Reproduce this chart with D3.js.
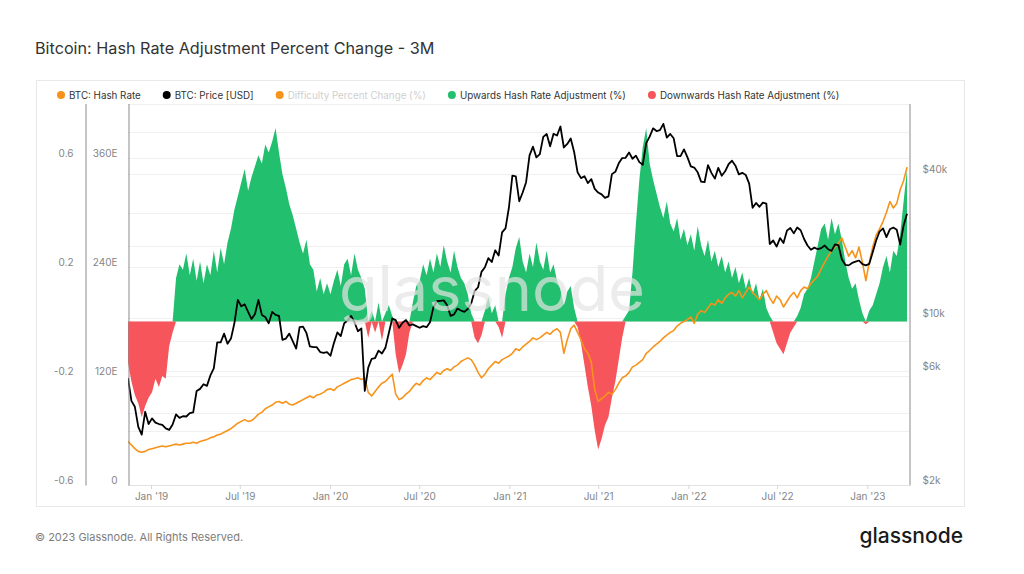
<!DOCTYPE html>
<html lang="en">
<head>
<meta charset="UTF-8">
<title>Bitcoin: Hash Rate Adjustment Percent Change - 3M</title>
<style>
    body {
        margin: 0;
        padding: 0;
        background: #fff;
        font-family: Inter, "Noto Sans", sans-serif;
    }
    .axis text {
        font-size: 10px;
        fill: #858585;
        font-family: Inter, "Noto Sans", sans-serif;
    }
    .axis .domain {
        stroke: #8a8a8a;
    }
    .x-axis .domain {
        stroke: #e2e2e2;
    }
    .x-axis .tick line {
        stroke: #d6d6d6;
    }
    .legend text {
        font-size: 9.8px;
        fill: #333;
    }
</style>
</head>
<body>
<script src="https://d3js.org/d3.v7.min.js"></script>
<script>
// weekly samples, first one on 15 Nov 2018
const startDate = new Date(2018, 10, 15);

// BTC price, USD
const price = [
    5600, 4500, 4250, 3500, 3250, 4050, 3600,
    3800, 3650, 3600, 3570, 3450, 3400, 3580, 3950, 3820, 3880, 3870, 4000, 4030,
    4950, 5050, 5280, 5200, 5750, 6150, 7900, 7900, 8600, 7800, 8200, 9500, 11900,
    11200, 11400, 10600, 9900, 10400, 11900, 10300, 10100, 9500, 10600, 10300, 10200, 8100,
    8200, 8600, 8000, 7450, 9150, 9200, 8650, 7600, 7550, 7550, 7200, 7150, 7200,
    6950, 7850, 8700, 8400, 9500, 9750, 10200, 9600, 8800, 9050, 4950, 6200, 6750,
    6800, 7300, 7100, 7500, 8650, 9950, 9800, 9100, 9550, 9800, 9300, 9400, 9250,
    9100, 9250, 9150, 9600, 11100, 11750, 11800, 11850, 11300, 10200, 10350, 10950, 10750,
    10600, 10900, 11500, 12950, 13450, 15600, 16300, 17800, 17150, 19200, 18250, 22800, 23700, 29000,
    39400, 39150, 30800, 33500, 37000, 47900, 52100, 47000, 48500, 57300, 58900, 52300,
    59000, 58000, 63300, 51700, 53500, 56400, 49500, 40700, 38500, 39200, 36700, 38100, 34700,
    33500, 32900, 31800, 32300, 40000, 40900, 44400, 46700, 46800, 49300, 46400, 47800, 44900, 43800,
    53900, 57400, 62200, 60600, 61100, 64900, 56900, 58900, 56500, 47600, 47600, 50800, 47100,
    43100, 42600, 40700, 37200, 37000, 43600, 40500, 38300, 42500, 39400, 41100, 44000, 45500,
    43400, 39900, 40500, 39700, 36500, 28900, 30300, 29200, 30400, 30100, 20400, 21100, 19900,
    21600, 20600, 23200, 23800, 22600, 23900, 23300, 21400, 20100, 19300, 19700, 19400, 19600,
    20100, 19400, 19100, 20300, 20200, 17600, 16700, 16600, 17000, 17200, 17400, 16800, 16600,
    16850, 18850, 21100, 23000, 23700, 21800, 23500, 23900, 23400, 20300, 24400, 27300
];

// BTC hash rate, EH/s
const hashRate = [
    48, 44, 40, 37, 36, 37, 39,
    40, 41, 42, 43, 42, 43, 44, 45, 44, 45, 46, 46, 47,
    46, 48, 49, 50, 52, 53, 55, 56, 58, 60, 62, 65, 68,
    70, 72, 70, 71, 74, 78, 80, 84, 86, 88, 91, 92, 90,
    92, 89, 88, 90, 92, 94, 96, 98, 96, 99, 100, 102, 105,
    106, 104, 108, 110, 112, 114, 116, 117, 118, 116, 118, 102, 98,
    103, 108, 112, 114, 118, 122, 100, 94, 96, 100, 103, 108, 112,
    110, 115, 118, 116, 120, 124, 122, 126, 128, 126, 130, 132, 136,
    138, 140, 138, 132, 124, 118, 122, 128, 132, 136, 134, 138, 140, 142,
    145, 150, 148, 152, 155, 158, 162, 160, 162, 165, 168, 166,
    170, 172, 168, 145, 160, 172, 176, 168, 160, 150, 145, 135, 105,
    92, 95, 98, 102, 100, 105, 112, 118, 120, 124, 130, 132, 135, 138,
    145, 148, 152, 155, 158, 162, 165, 168, 170, 175, 178, 180, 182,
    185, 178, 188, 192, 190, 195, 200, 198, 204, 200, 206, 210, 212,
    208, 214, 206, 212, 218, 212, 208, 204, 210, 214, 206, 200, 208,
    204, 196, 202, 208, 212, 206, 214, 218, 216, 222, 226, 230, 238,
    245, 252, 258, 262, 266, 272, 262, 252, 258, 250, 262, 245, 225,
    245, 262, 275, 282, 290, 300, 312, 305, 310, 325, 335, 350
];

// hash rate adjustment, 3 month percent change
const pctChange = [
    -0.15, -0.22, -0.27, -0.30, -0.35, -0.31, -0.28,
    -0.26, -0.21, -0.24, -0.20, -0.21, -0.09, -0.04, 0.16, 0.21, 0.19, 0.25, 0.17, 0.23,
    0.15, 0.22, 0.14, 0.21, 0.17, 0.26, 0.18, 0.27, 0.21, 0.29, 0.34, 0.41, 0.46,
    0.51, 0.56, 0.48, 0.53, 0.57, 0.61, 0.58, 0.65, 0.62, 0.66, 0.71, 0.62, 0.54,
    0.49, 0.43, 0.39, 0.34, 0.29, 0.25, 0.30, 0.21, 0.19, 0.11, 0.16, 0.10, 0.14,
    0.10, 0.15, 0.19, 0.13, 0.21, 0.23, 0.17, 0.25, 0.19, 0.16, 0.12, -0.06, 0.04,
    -0.04, 0.07, -0.07, 0.03, 0.06, 0.02, -0.12, -0.19, -0.16, -0.12, -0.04, 0.07, 0.13,
    0.15, 0.21, 0.17, 0.23, 0.18, 0.25, 0.20, 0.28, 0.22, 0.18, 0.26, 0.20, 0.16,
    0.14, 0.10, 0.03, -0.06, -0.08, -0.05, 0.04, 0.09, 0.03, 0.06, -0.02, -0.06, 0.10, 0.16,
    0.20, 0.27, 0.31, 0.22, 0.18, 0.25, 0.20, 0.29, 0.22, 0.19, 0.26, 0.18,
    0.21, 0.15, 0.12, 0.06, 0.11, 0.13, 0.05, -0.02, -0.08, -0.16, -0.24, -0.31, -0.40,
    -0.47, -0.43, -0.38, -0.35, -0.28, -0.22, -0.14, -0.06, 0.02, 0.04, 0.18, 0.36, 0.52, 0.64,
    0.71, 0.58, 0.52, 0.47, 0.42, 0.38, 0.44, 0.36, 0.33, 0.38, 0.30, 0.34, 0.28,
    0.32, 0.26, 0.35, 0.28, 0.24, 0.30, 0.22, 0.26, 0.20, 0.24, 0.18, 0.22, 0.16,
    0.20, 0.14, 0.18, 0.12, 0.16, 0.10, 0.14, 0.08, 0.12, 0.05, 0.02, -0.04, -0.08,
    -0.10, -0.12, -0.08, -0.04, -0.02, 0.02, 0.05, 0.10, 0.12, 0.16, 0.22, 0.28, 0.34,
    0.36, 0.30, 0.38, 0.32, 0.36, 0.30, 0.22, 0.16, 0.12, 0.14, 0.08, 0.03, -0.01,
    0.04, 0.06, 0.10, 0.14, 0.20, 0.24, 0.18, 0.26, 0.24, 0.32, 0.44, 0.56
];

const dates = pctChange.map((d, i) => d3.timeDay.offset(startDate, 7 * i));

// axes
const pctTicks = [-0.6, -0.2, 0.2, 0.6];
const hashTicks = [0, 120, 240, 360];
const hashGrid = [0, 60, 120, 180, 240, 300, 360, 420];
const priceTicks = [2000, 6000, 10000, 40000];
const priceGrid = [2000, 4000, 6000, 8000, 10000, 20000, 40000, 60000];

const legendItems = [
    { label: "BTC: Hash Rate", color: "#f7931a", off: false },
    { label: "BTC: Price [USD]", color: "#000000", off: false },
    { label: "Difficulty Percent Change (%)", color: "#f7931a", off: true },
    { label: "Upwards Hash Rate Adjustment (%)", color: "#22bf6e", off: false },
    { label: "Downwards Hash Rate Adjustment (%)", color: "#f5555b", off: false }
];

const W = 1024, H = 574;
const plot = { left: 128, right: 909, top: 103.5, bottom: 485 };

const svg = d3.select("body").append("svg")
    .attr("width", W)
    .attr("height", H);

// card
svg.append("rect")
    .attr("x", 36.5).attr("y", 80.5)
    .attr("width", 928).attr("height", 426)
    .attr("fill", "none")
    .attr("stroke", "#e8e8e8");

svg.append("text")
    .attr("x", 35).attr("y", 54)
    .style("font-size", "16.2px")
    .style("font-weight", 400)
    .style("fill", "#333")
    .text("Bitcoin: Hash Rate Adjustment Percent Change - 3M");

// scales
const x = d3.scaleTime()
    .domain([new Date(2018, 10, 15), new Date(2023, 2, 27)])
    .range([plot.left, plot.right]);
const yPct = d3.scaleLinear().domain([-0.6, 0.8]).range([plot.bottom, plot.top]);
const yHash = d3.scaleLinear().domain([0, 420]).range([plot.bottom, plot.top]);
const yPrice = d3.scaleLog().domain([2000, 79000]).range([plot.bottom, plot.top]);

// grid
const grid = svg.append("g").attr("stroke", "#f0f0f0");
grid.selectAll(".gh").data(hashGrid).enter().append("line")
    .attr("x1", plot.left).attr("x2", plot.right)
    .attr("y1", d => Math.round(yHash(d)) + 0.5).attr("y2", d => Math.round(yHash(d)) + 0.5);
grid.selectAll(".gp").data(priceGrid).enter().append("line")
    .attr("x1", plot.left).attr("x2", plot.right)
    .attr("y1", d => Math.round(yPrice(d)) + 0.5).attr("y2", d => Math.round(yPrice(d)) + 0.5);

svg.append("clipPath").attr("id", "clip")
    .append("rect")
    .attr("x", plot.left).attr("y", plot.top)
    .attr("width", plot.right - plot.left).attr("height", plot.bottom - plot.top);

const chart = svg.append("g").attr("clip-path", "url(#clip)");

// up / down areas
const up = d3.area()
    .x((d, i) => x(dates[i]))
    .y0(yPct(0))
    .y1(d => yPct(Math.max(d, 0)));
const down = d3.area()
    .x((d, i) => x(dates[i]))
    .y0(yPct(0))
    .y1(d => yPct(Math.min(d, 0)));

chart.append("path").datum(pctChange)
    .attr("d", up)
    .attr("fill", "#22bf6e");
chart.append("path").datum(pctChange)
    .attr("d", down)
    .attr("fill", "#f5555b");

// watermark
svg.append("text")
    .attr("x", 492).attr("y", 311)
    .attr("text-anchor", "middle")
    .style("font-size", "63px")
    .style("font-weight", 400)
    .style("fill", "#e4e4e4")
    .style("opacity", 0.7)
    .text("glassnode");

chart.append("path").datum(hashRate)
    .attr("d", d3.line().x((d, i) => x(dates[i])).y(d => yHash(d)))
    .attr("fill", "none")
    .attr("stroke", "#f7931a")
    .attr("stroke-width", 1.6)
    .attr("stroke-linejoin", "round");

chart.append("path").datum(price)
    .attr("d", d3.line().x((d, i) => x(dates[i])).y(d => yPrice(d)))
    .attr("fill", "none")
    .attr("stroke", "#000")
    .attr("stroke-width", 1.8)
    .attr("stroke-linejoin", "round");

// x axis
svg.append("g")
    .attr("class", "axis x-axis")
    .attr("transform", "translate(0," + plot.bottom + ")")
    .call(d3.axisBottom(x)
        .ticks(d3.timeMonth.every(6))
        .tickFormat(d3.timeFormat("%b '%y"))
        .tickSize(4)
        .tickSizeOuter(0)
        .tickPadding(4));

// percent axis (far left)
svg.append("g")
    .attr("class", "axis")
    .attr("transform", "translate(85.5,0)")
    .call(d3.axisLeft(yPct).tickValues(pctTicks).tickSize(0).tickSizeOuter(0).tickPadding(12)
        .tickFormat(d => String(d)))
    .selectAll("text").attr("dy", "-0.12em");

// hash rate axis
svg.append("g")
    .attr("class", "axis")
    .attr("transform", "translate(128.5,0)")
    .call(d3.axisLeft(yHash).tickValues(hashTicks).tickSize(0).tickSizeOuter(0).tickPadding(11)
        .tickFormat(d => d === 0 ? "0" : d + "E"))
    .selectAll("text").attr("dy", "-0.12em");

// price axis
svg.append("g")
    .attr("class", "axis")
    .attr("transform", "translate(909.5,0)")
    .call(d3.axisRight(yPrice).tickValues(priceTicks).tickSize(0).tickSizeOuter(0).tickPadding(13)
        .tickFormat(d => "$" + d / 1000 + "k"))
    .selectAll("text").attr("dy", "-0.12em");

// legend
const legend = svg.append("g").attr("class", "legend");
let lx = 61;
legendItems.forEach(item => {
    legend.append("circle")
        .attr("cx", lx).attr("cy", 95)
        .attr("r", 4)
        .attr("fill", item.color);
    const t = legend.append("text")
        .attr("x", lx + 8).attr("y", 98.5)
        .style("fill", item.off ? "#cfcfcf" : "#333")
        .text(item.label);
    lx += 8 + t.node().getComputedTextLength() + 26;
});

// footer
svg.append("text")
    .attr("x", 35).attr("y", 541)
    .style("font-size", "11px")
    .style("fill", "#7d7d7d")
    .text("\u00a9 2023 Glassnode. All Rights Reserved.");

svg.append("text")
    .attr("x", 963).attr("y", 543)
    .attr("text-anchor", "end")
    .style("font-size", "21px")
    .style("font-weight", 500)
    .style("fill", "#1a1a1a")
    .text("glassnode");
</script>
</body>
</html>
